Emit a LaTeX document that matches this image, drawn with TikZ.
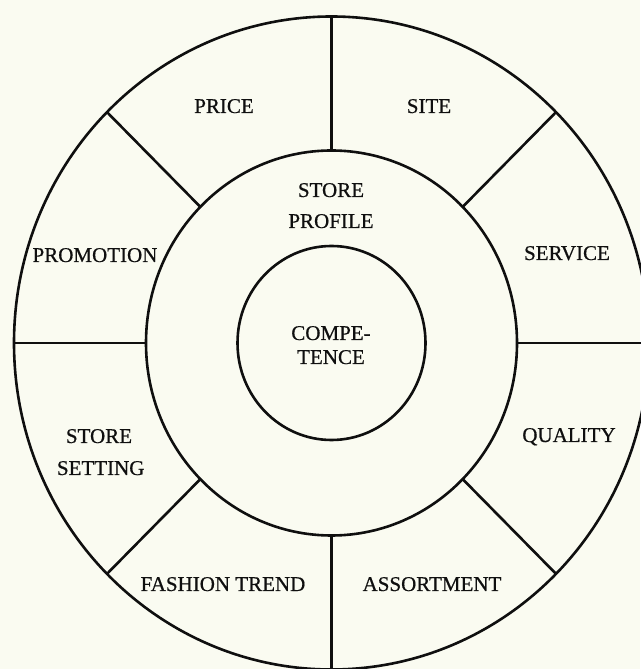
\documentclass[tikz,border=0pt]{standalone}
\usepackage{fontspec}
\setmainfont{Liberation Serif}[FakeBold=0.6,BoldFont=*]
\usetikzlibrary{calc}
\definecolor{paper}{RGB}{250,251,241}
\definecolor{ink}{RGB}{15,15,15}
\begin{document}
\begin{tikzpicture}[x=1pt,y=1pt,
  ring/.style={draw=ink,line width=2.6pt},
  divider/.style={draw=ink,line width=2.6pt},
  lbl/.style={anchor=base,inner sep=0pt,text=ink,font=\fontsize{21}{31}\selectfont\bfseries}]
\fill[paper] (0,0) rectangle (640,669);
\useasboundingbox (0,0) rectangle (640,669);
\coordinate (c) at (331.5,326);
% rings
\draw[ring] (c) ellipse [x radius=317.5pt, y radius=326.5pt];
\draw[ring] (c) ellipse [x radius=185.5pt, y radius=192.5pt];
\draw[ring] (c) ellipse [x radius=94pt, y radius=97pt];
% dividers
\foreach \a in {0,45,90,135,180,225,270,315}{
  \coordinate (m\a) at ($(c)+(\a:185.5pt and 192.5pt)$);
  \coordinate (o\a) at ($(c)+(\a:317.5pt and 326.5pt)$);
  \draw[divider] (m\a) -- (o\a);
}
% labels
\node[lbl] (price) at (224,556) {PRICE};
\node[lbl] (site) at (429,556) {SITE};
\node[lbl] (store1) at (331,472) {STORE};
\node[lbl] (profile) at (331,441) {PROFILE};
\node[lbl] (promo) at (95,407) {PROMOTION};
\node[lbl] (service) at (567,409) {SERVICE};
\node[lbl] (compe) at (331,329) {COMPE-};
\node[lbl] (tence) at (331,305) {TENCE};
\node[lbl] (store2) at (99,226) {STORE};
\node[lbl] (setting) at (100.7,194) {SETTING};
\node[lbl] (quality) at (569,227) {QUALITY};
\node[lbl] (fashion) at (223,78) {FASHION TREND};
\node[lbl] (assort) at (432,78) {ASSORTMENT};
\end{tikzpicture}
\end{document}
